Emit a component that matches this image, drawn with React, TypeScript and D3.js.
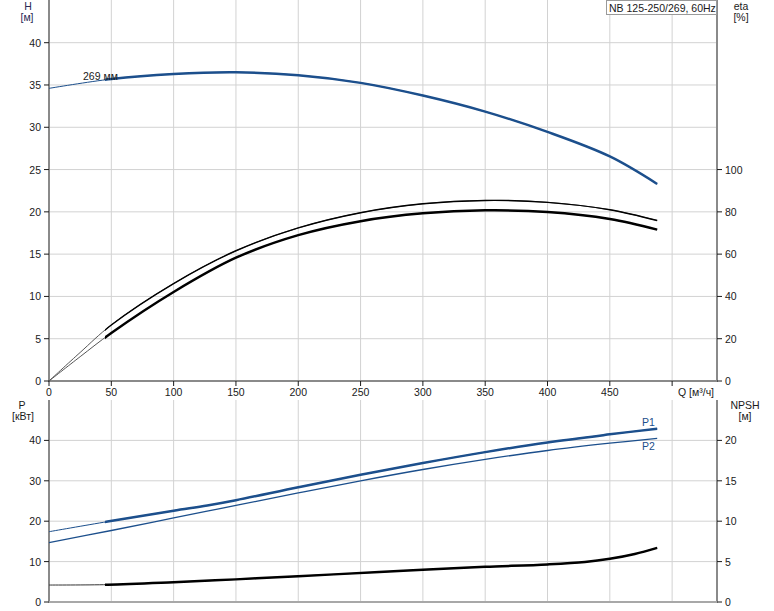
import React from "react";
import * as d3 from "d3";

// ---- data ----
const qTicks = [0, 50, 100, 150, 200, 250, 300, 350, 400, 450];
const qGrid = [50, 100, 150, 200, 250, 300, 350, 400, 450, 500];
const hTicks = [0, 5, 10, 15, 20, 25, 30, 35, 40];
const etaTicks = [0, 20, 40, 60, 80, 100];
const pTicks = [0, 10, 20, 30, 40];
const npshTicks = [0, 5, 10, 15, 20];

const qH = [0, 50, 100, 150, 200, 250, 300, 350, 400, 450, 488];
const hVals = [34.6, 35.7, 36.3, 36.5, 36.15, 35.25, 33.75, 31.85, 29.45, 26.55, 23.3];

const qEta = [0, 25, 50, 100, 150, 200, 250, 300, 350, 400, 450, 488];
const etaUpper = [0, 13.5, 26.5, 46.1, 61.6, 72.4, 79.6, 83.8, 85.4, 84.5, 81.0, 75.9];
const etaLower = [0, 11.5, 22.7, 42.1, 58.3, 69.0, 75.6, 79.3, 80.7, 79.9, 76.6, 71.6];

const qP1 = [0, 47, 100, 127, 150, 200, 250, 300, 350, 400, 450, 488];
const p1Vals = [17.4, 19.9, 22.6, 23.9, 25.2, 28.4, 31.5, 34.4, 37.1, 39.5, 41.5, 42.9];

const qP2 = [0, 50, 100, 150, 200, 250, 300, 350, 400, 450, 488];
const p2Vals = [14.7, 17.7, 20.8, 23.9, 27.0, 30.0, 32.8, 35.3, 37.5, 39.3, 40.5];

const qN = [0, 47, 100, 150, 200, 265, 300, 350, 400, 430, 450, 470, 488];
const npshVals = [2.1, 2.15, 2.45, 2.8, 3.2, 3.7, 4.0, 4.35, 4.65, 4.95, 5.35, 5.95, 6.7];

const title = "NB 125-250/269, 60Hz";
const curveLabel = "269 мм";
const thickFrom = 45;

// ---- layout ----
const W = 774;
const H = 611;
const FONT = "'Liberation Sans', Arial, sans-serif";
const FS = 10.5;
const BLUE = "#1c4f8c";
const GRID = "#d2d2d2";
const AXIS = "#8a8a8a";
const TXT = "#1a1a1a";

const x = d3.scaleLinear().domain([0, 536]).range([49, 717]);
const yH = d3.scaleLinear().domain([0, 45]).range([381, 0.4]);
const yEta = d3.scaleLinear().domain([0, 180]).range([381, 0.4]);
const yP = d3.scaleLinear().domain([0, 50]).range([602, 400]);
const yN = d3.scaleLinear().domain([0, 25]).range([602, 400]);

function mk(qs: number[], vs: number[], ys: d3.ScaleLinear<number, number>) {
  const line = d3
    .line<number>()
    .x((_, i) => x(qs[i]))
    .y((v) => ys(v))
    .curve(d3.curveCatmullRom.alpha(0.5));
  return line(vs) || "";
}

export default function App() {
  const hPath = mk(qH, hVals, yH);
  const eUp = mk(qEta, etaUpper, yEta);
  const eLo = mk(qEta, etaLower, yEta);
  const p1 = mk(qP1, p1Vals, yP);
  const p2 = mk(qP2, p2Vals, yP);
  const np = mk(qN, npshVals, yN);
  const xThick = x(thickFrom);

  return (
    <svg
      width={W}
      height={H}
      style={{ position: "absolute", left: 0, top: 0, background: "#fff" }}
      fontFamily={FONT}
      fontSize={FS}
    >
      <defs>
        <clipPath id="thick">
          <rect x={xThick} y={0} width={W - xThick} height={H} />
        </clipPath>
      </defs>
      <rect x={0} y={0} width={W} height={H} fill="#fff" />

      {/* ---------- top plot grid ---------- */}
      {qGrid.map((q) => (
        <line key={"vt" + q} x1={x(q)} x2={x(q)} y1={0} y2={yH(0)} stroke={GRID} />
      ))}
      {hTicks.filter((t) => t > 0).map((t) => (
        <line key={"ht" + t} x1={x(0)} x2={x(536)} y1={yH(t)} y2={yH(t)} stroke={GRID} />
      ))}

      {/* ---------- bottom plot grid ---------- */}
      {qGrid.map((q) => (
        <line key={"vb" + q} x1={x(q)} x2={x(q)} y1={yP(50)} y2={yP(0)} stroke={GRID} />
      ))}
      {pTicks.filter((t) => t > 0).map((t) => (
        <line key={"hb" + t} x1={x(0)} x2={x(536)} y1={yP(t)} y2={yP(t)} stroke={GRID} />
      ))}

      {/* ---------- axes top ---------- */}
      <line x1={x(0)} x2={x(0)} y1={0} y2={yH(0)} stroke={AXIS} strokeWidth={2} />
      <line x1={x(536)} x2={x(536)} y1={0} y2={yH(0)} stroke={AXIS} strokeWidth={2} />
      <line x1={x(0) - 1} x2={x(536) + 1} y1={yH(0)} y2={yH(0)} stroke={AXIS} strokeWidth={2} />
      {hTicks.map((t) => (
        <g key={"hl" + t}>
          <line x1={x(0) - 5} x2={x(0)} y1={yH(t)} y2={yH(t)} stroke={TXT} />
          <text x={x(0) - 8} y={yH(t) + 4} textAnchor="end" fill={TXT}>{t}</text>
        </g>
      ))}
      {etaTicks.map((t) => (
        <g key={"el" + t}>
          <line x1={x(536)} x2={x(536) + 5} y1={yEta(t)} y2={yEta(t)} stroke={TXT} />
          <text x={x(536) + 8} y={yEta(t) + 4} textAnchor="start" fill={TXT}>{t}</text>
        </g>
      ))}
      {[...qTicks, 500].map((q) => (
        <line key={"xt" + q} x1={x(q)} x2={x(q)} y1={yH(0)} y2={yH(0) + 5} stroke={TXT} />
      ))}
      {qTicks.map((q) => (
        <text key={"xl" + q} x={x(q)} y={396} textAnchor="middle" fill={TXT}>{q}</text>
      ))}
      <text x={678} y={396} fill={TXT}>Q [м³/ч]</text>

      <text x={28} y={10} textAnchor="middle" fill="#2a2a55">H</text>
      <text x={27} y={21} textAnchor="middle" fill="#2a2a55">[м]</text>
      <text x={741} y={10} textAnchor="middle" fill={TXT}>eta</text>
      <text x={741} y={21} textAnchor="middle" fill={TXT}>[%]</text>

      {/* ---------- axes bottom ---------- */}
      <line x1={x(0)} x2={x(0)} y1={yP(50)} y2={yP(0)} stroke={AXIS} strokeWidth={2} />
      <line x1={x(536)} x2={x(536)} y1={yP(50)} y2={yP(0)} stroke={AXIS} strokeWidth={2} />
      <line x1={x(0) - 1} x2={x(536) + 1} y1={yP(0)} y2={yP(0)} stroke="#a8a8a8" strokeWidth={2} />
      {pTicks.map((t) => (
        <g key={"pl" + t}>
          <line x1={x(0) - 5} x2={x(0)} y1={yP(t)} y2={yP(t)} stroke={TXT} />
          <text x={x(0) - 8} y={yP(t) + 4} textAnchor="end" fill={TXT}>{t}</text>
        </g>
      ))}
      {npshTicks.map((t) => (
        <g key={"nl" + t}>
          <line x1={x(536)} x2={x(536) + 5} y1={yN(t)} y2={yN(t)} stroke={TXT} />
          <text x={x(536) + 8} y={yN(t) + 4} textAnchor="start" fill={TXT}>{t}</text>
        </g>
      ))}
      <text x={22} y={409} textAnchor="middle" fill={TXT}>P</text>
      <text x={23} y={420} textAnchor="middle" fill={TXT}>[кВт]</text>
      <text x={745} y={409} textAnchor="middle" fill={TXT}>NPSH</text>
      <text x={745} y={420} textAnchor="middle" fill={TXT}>[м]</text>

      {/* ---------- curves top ---------- */}
      <path d={hPath} fill="none" stroke={BLUE} strokeWidth={1} />
      <path d={hPath} fill="none" stroke={BLUE} strokeWidth={2.5} clipPath="url(#thick)" />
      <path d={eUp} fill="none" stroke="#555" strokeWidth={1} />
      <path d={eUp} fill="none" stroke="#000" strokeWidth={1.4} clipPath="url(#thick)" />
      <path d={eLo} fill="none" stroke="#555" strokeWidth={1} />
      <path d={eLo} fill="none" stroke="#000" strokeWidth={2.5} clipPath="url(#thick)" />
      <text x={83} y={80} fill={TXT}>{curveLabel}</text>

      {/* ---------- curves bottom ---------- */}
      <path d={p1} fill="none" stroke={BLUE} strokeWidth={1} />
      <path d={p1} fill="none" stroke={BLUE} strokeWidth={2.5} clipPath="url(#thick)" />
      <path d={p2} fill="none" stroke={BLUE} strokeWidth={1.3} />
      <path d={np} fill="none" stroke="#333" strokeWidth={1} />
      <path d={np} fill="none" stroke="#000" strokeWidth={2.5} clipPath="url(#thick)" />
      <text x={642} y={426} fill={BLUE}>P1</text>
      <text x={642} y={450} fill={BLUE}>P2</text>

      {/* ---------- title box ---------- */}
      <rect x={606.5} y={0.5} width={110} height={14} fill="#fff" stroke="#9a9a9a" />
      <text x={609} y={11.5} fill={TXT}>{title}</text>
    </svg>
  );
}
